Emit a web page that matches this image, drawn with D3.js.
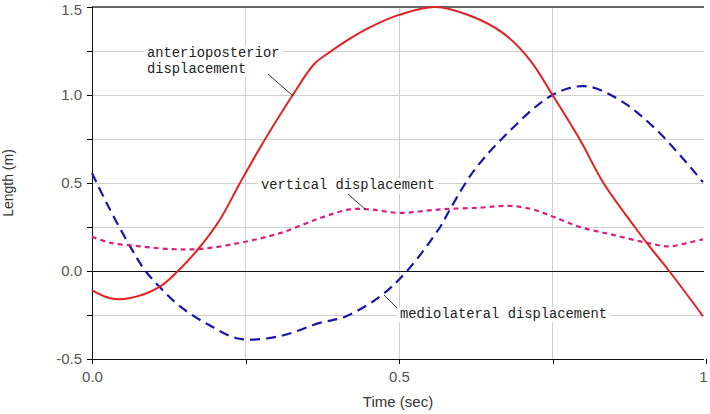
<!DOCTYPE html>
<html lang="en">
<head>
<meta charset="UTF-8">
<script src="https://cdn.jsdelivr.net/npm/d3@7"></script>
<style>
  body { margin: 0; background: #fff; }
  svg { display: block; font-family: Arial, "Liberation Sans", sans-serif; }
  .grid line { stroke: #cfcfcf; stroke-width: 1; shape-rendering: crispEdges; }
  .tick text { fill: #555; font-size: 15px; }
  .tick line, .domain { shape-rendering: crispEdges; }
  .note { font-family: "Liberation Mono", "DejaVu Sans Mono", monospace; font-size: 13.8px; fill: #222; }
</style>
</head>
<body>
<script>
// values
const apX = [0, 0.03, 0.06, 0.11, 0.14, 0.173, 0.208, 0.241, 0.277, 0.327, 0.363, 0.39, 0.42, 0.45, 0.5, 0.559, 0.616, 0.67, 0.713, 0.75, 0.795, 0.832, 0.884, 0.906, 0.94, 0.995];
const apY = [-0.11, -0.155, -0.155, -0.09, 0, 0.125, 0.29, 0.5, 0.72, 1.0, 1.18, 1.25, 1.32, 1.38, 1.455, 1.5, 1.45, 1.35, 1.2, 1.0, 0.744, 0.506, 0.25, 0.148, 0, -0.256];

const mlX = [0, 0.024, 0.062, 0.086, 0.11, 0.143, 0.187, 0.24, 0.306, 0.371, 0.412, 0.469, 0.513, 0.567, 0.583, 0.62, 0.67, 0.75, 0.803, 0.86, 0.92, 0.995];
const mlY = [0.557, 0.385, 0.14, 0.005, -0.09, -0.2, -0.3, -0.385, -0.37, -0.295, -0.26, -0.145, 0, 0.25, 0.35, 0.56, 0.76, 1.0, 1.05, 0.97, 0.80, 0.505];

const vtX = [0, 0.03, 0.078, 0.127, 0.176, 0.241, 0.306, 0.371, 0.42, 0.453, 0.5, 0.567, 0.632, 0.68, 0.718, 0.75, 0.795, 0.849, 0.904, 0.94, 0.97, 0.995];
const vtY = [0.195, 0.16, 0.14, 0.125, 0.125, 0.16, 0.215, 0.30, 0.35, 0.35, 0.33, 0.35, 0.36, 0.37, 0.35, 0.31, 0.25, 0.205, 0.16, 0.14, 0.16, 0.18];

const yTicks = [-0.5, -0.25, 0, 0.25, 0.5, 0.75, 1, 1.25, 1.5];
const yLabels = ["-0.5", "", "0.0", "", "0.5", "", "1.0", "", "1.5"];
const xTicks = [0, 0.25, 0.5, 0.75, 1];
const xLabels = ["0.0", "", "0.5", "", "1"];

const W = 710, H = 414;
const pLeft = 92, pRight = 706, pTop = 7, pBottom = 359, gridEnd = 704;

const svg = d3.select("body").append("svg").attr("width", W).attr("height", H);

const x = d3.scaleLinear().domain([0, 1]).range([pLeft, pRight]);
const y = d3.scaleLinear().domain([-0.5, 1.5]).range([pBottom, pTop]);

// grid
const grid = svg.append("g").attr("class", "grid");
grid.selectAll(".h").data(yTicks.filter(d => d != 0 && d != -0.5 && d != 1.5)).enter()
  .append("line").attr("x1", pLeft).attr("x2", gridEnd)
  .attr("y1", d => y(d)).attr("y2", d => y(d));
grid.selectAll(".v").data([0.25, 0.5, 0.75]).enter()
  .append("line").attr("y1", pTop).attr("y2", pBottom)
  .attr("x1", d => x(d)).attr("x2", d => x(d));

// zero line, top border
svg.append("line").attr("x1", pLeft).attr("x2", gridEnd).attr("y1", y(0) + 0.5).attr("y2", y(0) + 0.5)
  .attr("stroke", "#111").attr("shape-rendering", "crispEdges");
svg.append("line").attr("x1", pLeft).attr("x2", gridEnd).attr("y1", y(1.5)).attr("y2", y(1.5))
  .attr("stroke", "#666").attr("stroke-width", 2).attr("shape-rendering", "crispEdges");

// axes
const yAxis = d3.axisLeft(y).tickValues(yTicks).tickSize(5).tickPadding(5)
  .tickFormat((d, i) => yLabels[i]);
svg.append("g").attr("transform", `translate(${pLeft},0)`).call(yAxis)
  .call(g => g.select(".domain").attr("stroke", "#111"))
  .call(g => g.selectAll(".tick text").filter(d => d == 1.5).attr("dy", "0.5em"));

const xAxis = d3.axisBottom(x).tickValues(xTicks).tickSize(5).tickPadding(7)
  .tickFormat((d, i) => xLabels[i]);
svg.append("g").attr("transform", `translate(0,${pBottom})`).call(xAxis)
  .call(g => g.select(".domain").attr("d", `M${pLeft},0.5H${gridEnd}`).attr("stroke", "#111"))
  .call(g => g.selectAll(".tick text").filter(d => d == 1).attr("text-anchor", "end").attr("dx", 1));

svg.append("text").attr("x", 398).attr("y", 407).attr("text-anchor", "middle")
  .attr("font-size", 15).attr("fill", "#333").text("Time (sec)");
svg.append("text").attr("transform", "translate(13,183) rotate(-90)").attr("text-anchor", "middle")
  .attr("font-size", 14).attr("fill", "#333").text("Length (m)");

// series
const line = d3.line().x(d => x(d[0])).y(d => y(d[1])).curve(d3.curveCatmullRom.alpha(0.5));
const series = [
  { xs: mlX, ys: mlY, color: "#1818a8", dash: "10,6", w: 2.2 },
  { xs: vtX, ys: vtY, color: "#d8207f", dash: "5,4", w: 2.2 },
  { xs: apX, ys: apY, color: "#e02222", dash: null, w: 2 }
];
series.forEach(s => {
  svg.append("path").datum(d3.zip(s.xs, s.ys)).attr("d", line)
    .attr("fill", "none").attr("stroke", s.color).attr("stroke-width", s.w)
    .attr("stroke-dasharray", s.dash);
});

// annotations
function note(lines, tx, ty, lx1, ly1, lx2, ly2) {
  const g = svg.append("g");
  const rect = g.append("rect").attr("fill", "#fff");
  const t = g.append("text").attr("class", "note");
  lines.forEach((s, i) => t.append("tspan").attr("x", tx).attr("y", ty + i * 16).text(s));
  const b = t.node().getBBox();
  rect.attr("x", b.x - 3).attr("y", b.y).attr("width", b.width + 6).attr("height", b.height);
  g.append("line").attr("x1", lx1).attr("y1", ly1).attr("x2", lx2).attr("y2", ly2)
    .attr("stroke", "#333").attr("stroke-width", 1);
}
note(["anterioposterior", "displacement"], 147, 57, 268, 74, 293, 96);
note(["vertical displacement"], 261, 189, 348, 194, 366, 210);
note(["mediolateral displacement"], 400, 318, 384, 295, 397, 308);
</script>
</body>
</html>
